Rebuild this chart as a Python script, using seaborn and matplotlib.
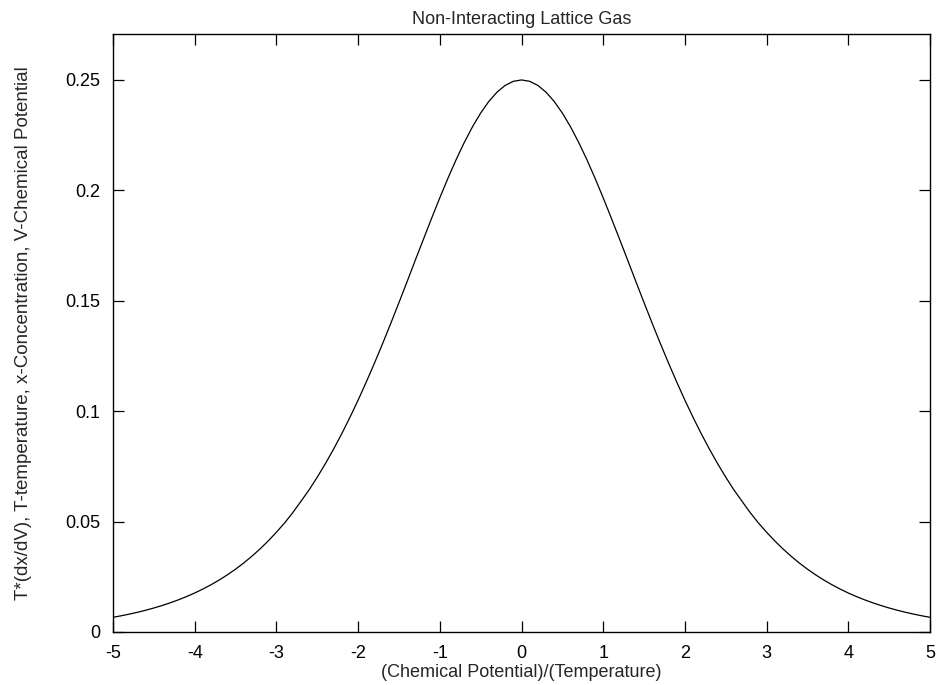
import numpy as np
import pandas as pd
import matplotlib
matplotlib.use("Agg")
import matplotlib.pyplot as plt
import seaborn as sns

# values, mu/T from 0 to 5 (the curve is symmetric about 0)
mu_half = [0.0, 0.1, 0.2, 0.3, 0.4, 0.5, 0.6, 0.7, 0.8, 0.9,
           1.0, 1.1, 1.2, 1.3, 1.4, 1.5, 1.6, 1.7, 1.8, 1.9,
           2.0, 2.1, 2.2, 2.3, 2.4, 2.5, 2.6, 2.7, 2.8, 2.9,
           3.0, 3.1, 3.2, 3.3, 3.4, 3.5, 3.6, 3.7, 3.8, 3.9,
           4.0, 4.1, 4.2, 4.3, 4.4, 4.5, 4.6, 4.7, 4.8, 4.9, 5.0]
resp_half = [0.25000, 0.24938, 0.24752, 0.24446, 0.24026, 0.23500,
             0.22878, 0.22171, 0.21391, 0.20550, 0.19661, 0.18737,
             0.17789, 0.16837, 0.15869, 0.14915, 0.13976, 0.13061,
             0.12173, 0.11320, 0.10499, 0.09720, 0.08980, 0.08283,
             0.07626, 0.07010, 0.06436, 0.05915, 0.05404, 0.04938,
             0.04518, 0.04125, 0.03763, 0.03431, 0.03125, 0.02845,
             0.02589, 0.02355, 0.02140, 0.01945, 0.01766, 0.01604,
             0.01456, 0.01321, 0.01198, 0.01087, 0.00985, 0.00893,
             0.00810, 0.00734, 0.00665]

mu = [-m for m in mu_half[:0:-1]] + mu_half
resp = resp_half[:0:-1] + resp_half
df = pd.DataFrame({"mu": mu, "resp": resp})

sns.set_style("ticks")
plt.rcParams["font.family"] = ["Liberation Sans", "DejaVu Sans"]
plt.rcParams["axes.unicode_minus"] = False

fig = plt.figure(figsize=(9.38, 6.85), dpi=100)
ax = fig.add_axes([113 / 938, 1 - 632 / 685, (930 - 113) / 938, (632 - 34) / 685])

sns.lineplot(data=df, x="mu", y="resp", ax=ax, color="black", linewidth=0.9)

ax.set_xlim(-5, 5)
ax.set_ylim(0, 0.2708)
ax.set_xticks(range(-5, 6))
ax.set_yticks([0, 0.05, 0.1, 0.15, 0.2, 0.25])
ax.set_yticklabels(["0", "0.05", "0.1", "0.15", "0.2", "0.25"])
ax.tick_params(direction="in", length=8, width=0.9, top=True, right=True,
               labelsize=13, colors="black")
ax.tick_params(axis="x", pad=9)
ax.tick_params(axis="y", pad=9)
for s in ax.spines.values():
    s.set_visible(True)
    s.set_linewidth(1.0)
    s.set_color("black")

ax.set_title("Non-Interacting Lattice Gas", fontsize=13, pad=7)
ax.set_xlabel("(Chemical Potential)/(Temperature)", fontsize=13, labelpad=2)
ax.set_ylabel("T*(dx/dV), T-temperature, x-Concentration, V-Chemical Potential",
              fontsize=13.5, labelpad=24)

fig.savefig("out.png", dpi=100)
